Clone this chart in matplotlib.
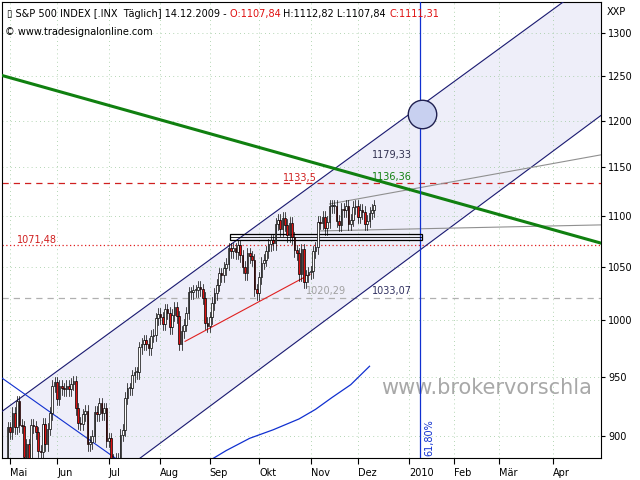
import numpy as np
import matplotlib
matplotlib.use("Agg")
import matplotlib.pyplot as plt
from matplotlib.patches import Rectangle

# daily closes, trading-day index -3 (28 Apr 2009) .. 157 (14 Dec 2009)
closes = [855, 873, 873,
 877, 907, 903, 919, 907, 929, 909, 908, 883, 893, 882, 909, 908, 903, 888, 887, 910, 893, 906, 919,
 942, 945, 931, 942, 940, 939, 942, 939, 944, 946, 923, 911, 910, 918, 921, 893, 895, 900, 920, 918, 927, 919,
 923, 896, 898, 881, 879, 882, 879, 901, 905, 932, 940, 940, 951, 954, 954, 976, 979, 982, 979, 975, 986, 987,
 1002, 1006, 1003, 997, 1010, 1007, 994, 1005, 1012, 1004, 979, 990, 996, 1007, 1026, 1026, 1028, 1028, 1031, 1029, 1021,
 998, 995, 1003, 1016, 1025, 1033, 1044, 1042, 1049, 1053, 1068, 1065, 1068, 1064, 1071, 1061, 1050, 1044, 1063, 1060, 1057,
 1029, 1025, 1040, 1054, 1057, 1065, 1072, 1076, 1073, 1092, 1096, 1087, 1098, 1091, 1081, 1093, 1079, 1066, 1063, 1043, 1067, 1036,
 1042, 1045, 1046, 1065, 1069, 1094, 1093, 1099, 1088, 1094, 1110, 1110, 1110, 1095, 1091, 1107, 1106, 1110, 1092, 1096,
 1109, 1110, 1099, 1106, 1104, 1092, 1095, 1103, 1106, 1111]
first_open = 851
first_idx = -5

month_idx = [0, 20, 42, 64, 85, 106, 128, 148, 170, 189, 208, 231]
month_lbl = ["Mai", "Jun", "Jul", "Aug", "Sep", "Okt", "Nov", "Dez", "2010", "Feb", "Mär", "Apr"]
y_ticks = [900, 950, 1000, 1050, 1100, 1150, 1200, 1250, 1300]

# annotation lines (index, price)
chan_upper = [(-4.3, 919), (137.4, 1147)]
chan_lower = [(54, 880), (166, 1052)]
green_line = [(-4.3, 1251), (251.5, 1073)]
blue_down = [(-4.3, 950), (47, 879)]
red_support = [(74.5, 981), (127.7, 1043)]
grey_up = [(136, 1112), (251.5, 1163)]
grey_flat = [(132, 1085), (251.5, 1091)]
ma_idx = [85, 92, 102, 112, 123, 130, 137, 145, 153]
ma_val = [880, 888, 898, 905, 914, 922, 932, 943, 959]
levels = {"1133,5": 1133.5, "1071,48": 1071.48, "1033,07": 1021}
fib_idx = 174.5
circle_pt = (175.5, 1207)

XL, XR = -3.4, 251.5
YB, YT = 882, 1337

fig = plt.figure(figsize=(6.4, 4.8), dpi=100)
ax = fig.add_axes([2/640, 22/480, 599/640, 456/480])
ax.set_yscale("log")
ax.set_xlim(XL, XR)
ax.set_ylim(YB, YT)

def extend(p, q):
    (x1, y1), (x2, y2) = p, q
    s = (np.log(y2) - np.log(y1)) / (x2 - x1)
    xs = np.array([XL, XR])
    return xs, np.exp(np.log(y1) + s * (xs - x1))

xs, yu = extend(*chan_upper)
_, yl = extend(*chan_lower)
xx = np.linspace(XL, XR, 300)
yu_f = np.exp(np.interp(xx, xs, np.log(yu)))
yl_f = np.exp(np.interp(xx, xs, np.log(yl)))
ax.fill_between(xx, yl_f, yu_f, color="#eeeef9", zorder=0)
ax.plot(xs, yu, color="#1a1a70", lw=0.8, zorder=3)
ax.plot(xs, yl, color="#1a1a70", lw=0.8, zorder=3)

for m in month_idx:
    ax.axvline(m, color="#9cc89c", lw=0.6, ls=(0, (1, 4)), zorder=1)
for t in y_ticks:
    ax.axhline(t, color="#9cc89c", lw=0.6, ls=(0, (1, 4)), zorder=1)

ax.axhline(levels["1133,5"], color="#d02020", lw=0.9, ls=(0, (5, 4)), zorder=2)
ax.axhline(levels["1071,48"], color="#e02020", lw=0.9, ls=(0, (1, 2)), zorder=2)
ax.axhline(levels["1033,07"], color="#b0b0b0", lw=0.9, ls=(0, (5, 4)), zorder=2)

ax.plot(*zip(*grey_up), color="#909090", lw=0.8, zorder=3)
ax.plot(*zip(*grey_flat), color="#909090", lw=0.8, zorder=3)
ax.plot(*zip(*blue_down), color="#1030d0", lw=0.8, zorder=3)
ax.plot(ma_idx, ma_val, color="#1030d0", lw=0.9, zorder=3)
ax.plot(*zip(*red_support), color="#e02020", lw=0.8, zorder=4)
gx, gy = extend(*green_line)
ax.plot(gx, gy, color="#108010", lw=2.2, zorder=5)
ax.axvline(fib_idx, color="#1030d0", lw=0.9, zorder=5)

ax.add_patch(Rectangle((93.5, 1076), 82, 6, fill=False, ec="black", lw=0.9, zorder=6))
ax.plot([93.5, 175.5], [1079, 1079], color="black", lw=0.6, zorder=6)

opens = [first_open] + closes[:-1]
for i, (o, c) in enumerate(zip(opens, closes)):
    x = first_idx + i
    lo, hi = min(o, c), max(o, c)
    ax.plot([x, x], [lo * 0.994, hi * 1.005], color="black", lw=0.5, zorder=7)
    h = max(hi - lo, 0.8)
    ax.add_patch(Rectangle((x - 0.35, lo), 0.7, h, fc="white" if c >= o else "#dd1010",
                           ec="black", lw=0.5, zorder=8))

ax.scatter([circle_pt[0]], [circle_pt[1]], s=420, fc="#c8d0f0", ec="#202050", lw=1, zorder=9)

ax.text(116, 1136, "1133,5", color="#d02020", fontsize=7, zorder=10)
ax.text(3, 1073, "1071,48", color="#d02020", fontsize=7, zorder=10)
ax.text(154, 1136.5, "1136,36", color="#108010", fontsize=7, zorder=10)
ax.text(154, 1160, "1179,33", color="#303050", fontsize=7, zorder=10)
ax.text(126, 1024, "1020,29", color="#a0a0a0", fontsize=7, zorder=10)
ax.text(154, 1024, "1033,07", color="#303060", fontsize=7, zorder=10)
ax.text(176.2, 885, "61,80%", color="#1030d0", fontsize=7, rotation=90, zorder=10)
ax.text(158, 935, "www.brokervorschla", color="#a8a8a8", fontsize=15, zorder=2, clip_on=True)

parts = [("\u25af S&P 500 INDEX [.INX  Täglich] 14.12.2009 - ", "black"), ("O:1107,84 ", "#e01010"),
         ("H:1112,82 L:1107,84 ", "black"), ("C:1111,31", "#e01010")]
t = ax.text(0.008, 0.985, parts[0][0], color=parts[0][1], transform=ax.transAxes,
            fontsize=7, va="top", zorder=11)
for s, col in parts[1:]:
    t = ax.annotate(s, xy=(1, 0), xycoords=t, va="bottom", fontsize=7, color=col, zorder=11)
ax.text(0.005, 0.945, "© www.tradesignalonline.com", transform=ax.transAxes, fontsize=7, va="top", zorder=11)

ax.yaxis.tick_right()
ax.set_yticks(y_ticks)
ax.set_yticklabels([str(v) for v in y_ticks], fontsize=7)
ax.yaxis.set_minor_locator(matplotlib.ticker.NullLocator())
ax.set_xticks(month_idx)
ax.set_xticklabels(month_lbl, fontsize=7, ha="left")
ax.tick_params(axis="x", length=4, pad=3)
ax.tick_params(axis="y", length=3, pad=2)
fig.text(0.948, 0.985, "XXP", fontsize=7, va="top")

fig.savefig("out.png", dpi=100)
